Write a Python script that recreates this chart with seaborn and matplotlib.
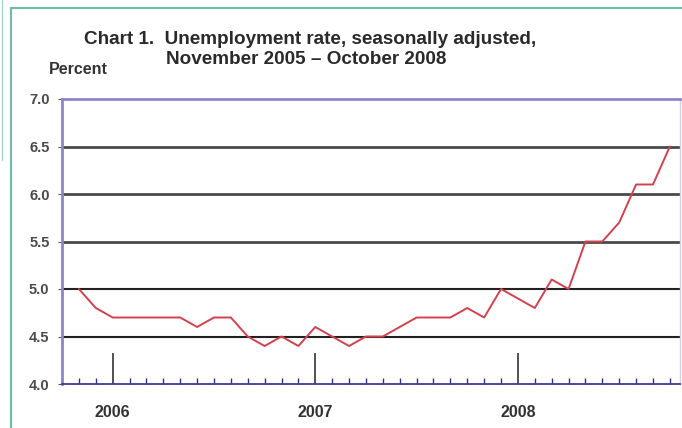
import matplotlib
matplotlib.use("Agg")
import matplotlib.pyplot as plt
import pandas as pd
import seaborn as sns
from matplotlib.lines import Line2D
from matplotlib.ticker import FixedLocator, MultipleLocator

# Nov 2005 .. Oct 2008, one value per month
months = pd.date_range("2005-11-01", "2008-10-01", freq="MS").strftime("%b %Y").tolist()
rate = [
    5.0, 4.8, 4.7, 4.7, 4.7, 4.7, 4.7, 4.6, 4.7, 4.7, 4.5, 4.4,
    4.5, 4.4, 4.6, 4.5, 4.4, 4.5, 4.5, 4.6, 4.7, 4.7, 4.7, 4.8,
    4.7, 5.0, 4.9, 4.8, 5.1, 5.0, 5.5, 5.5, 5.7, 6.1, 6.1, 6.5,
]
year_labels = ["2006", "2007", "2008"]
year_positions = [2, 14, 26]  # January of each year
y_ticks = [4.0, 4.5, 5.0, 5.5, 6.0, 6.5, 7.0]

df = pd.DataFrame({"month": months, "idx": range(len(months)), "rate": rate})

sns.set_theme(style="white")
plt.rcParams["font.family"] = ["Liberation Sans", "DejaVu Sans"]

fig = plt.figure(figsize=(6.82, 4.28), dpi=100)
ax = fig.add_axes([62 / 682, 1 - 384 / 428, 618 / 682, 285 / 428])

# horizontal rules: upper ones look softer/greyer, lower ones darker
for y in y_ticks[1:-1]:
    if y >= 5.5:
        ax.axhline(y, color="#4a4a4a", lw=2.0, zorder=1)
    else:
        ax.axhline(y, color="#222222", lw=1.5, zorder=1)

sns.lineplot(data=df, x="idx", y="rate", color="#d4404e", lw=1.4, ax=ax, zorder=3)

ax.set_xlim(-1, 35.6)
ax.set_ylim(4.0, 7.0)
ax.set_xlabel("")
ax.set_ylabel("")

ax.yaxis.set_major_locator(FixedLocator(y_ticks))
ax.set_yticklabels([f"{v:.1f}" for v in y_ticks], fontweight="bold")
ax.tick_params(axis="y", direction="out", length=3, width=0.8, color="#555555",
               labelsize=10.5, labelcolor="#4a4a4a", pad=6, left=True)

ax.xaxis.set_major_locator(FixedLocator(year_positions))
ax.set_xticklabels(year_labels, fontweight="bold")
ax.xaxis.set_minor_locator(MultipleLocator(1))
ax.tick_params(axis="x", which="major", direction="in", length=22, width=1.2,
               color="#333333", labelsize=11.5, labelcolor="#333333", pad=15, bottom=True)
ax.tick_params(axis="x", which="minor", direction="in", length=4, width=1,
               color="#333366", bottom=True)

for side in ["left", "top"]:
    ax.spines[side].set_color("#8a86c8")
    ax.spines[side].set_linewidth(2)
ax.spines["bottom"].set_color("#3c3ca0")
ax.spines["bottom"].set_linewidth(1.3)
ax.spines["right"].set_color("#d0d0e6")
ax.spines["right"].set_linewidth(1)

title_kw = dict(fontsize=13.6, fontweight="bold", color="#2a2a2a", va="center", ha="left")
fig.text(84 / 682, 1 - 40 / 428, "Chart 1.  Unemployment rate, seasonally adjusted,", **title_kw)
fig.text(166 / 682, 1 - 60 / 428, "November 2005 \u2013 October 2008", **title_kw)
fig.text(49 / 682, 1 - 70 / 428, "Percent", fontsize=11.5, fontweight="bold",
         color="#333333", va="center", ha="left")

teal = "#6fbca8"
fig.add_artist(Line2D([11 / 682, 11 / 682], [0, 1 - 8 / 428], color=teal, lw=1.5,
                      transform=fig.transFigure))
fig.add_artist(Line2D([11 / 682, 1], [1 - 8 / 428, 1 - 8 / 428], color=teal, lw=1.5,
                      transform=fig.transFigure))
fig.add_artist(Line2D([2 / 682, 2 / 682], [1, 1 - 160 / 428], color="#a8d4c8", lw=1,
                      transform=fig.transFigure))

fig.savefig("out.png", dpi=100, facecolor="white")
